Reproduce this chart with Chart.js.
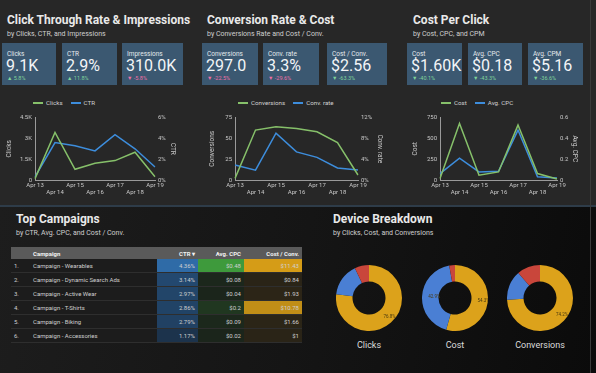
<!DOCTYPE html>
<html>
<head>
<meta charset="utf-8">
<script src="https://cdn.jsdelivr.net/npm/chart.js@4.4.1/dist/chart.umd.min.js"></script>
<style>
  html, body { margin: 0; padding: 0; }
  body { width: 596px; height: 373px; position: relative; overflow: hidden; font-family: Roboto, 'Noto Sans', sans-serif; color: #e8e8e8; background: #111; }
  .top { position: absolute; left: 0; top: 0; width: 596px; height: 205px; background: #272727; }
  .sep { position: absolute; left: 0; top: 205px; width: 596px; height: 2px; background: #2e3c49; }
  .bottom { position: absolute; left: 0; top: 207px; width: 596px; height: 166px; background: linear-gradient(100deg, #1d1d1d 0%, #151515 50%, #0b0b0b 100%); }
  .edge { position: absolute; left: 590px; top: 0; width: 1px; height: 373px; background: #3a3a3a; }
  .title { position: absolute; font-weight: 700; font-size: 12px; line-height: 13px; color: #e9e9e9; white-space: nowrap; }
  .sub { position: absolute; font-size: 7px; line-height: 7px; color: #cfcfcf; white-space: nowrap; }
  .card { position: absolute; top: 43px; height: 42px; background: #3b5871; }
  .card .lbl { position: absolute; left: 5px; top: 8px; font-size: 6.5px; line-height: 7px; color: #e3e8ec; white-space: nowrap; }
  .card .val { position: absolute; left: 4px; top: 15px; font-size: 16px; line-height: 16px; color: #f3f5f7; white-space: nowrap; }
  .card .chg { position: absolute; left: 5px; top: 32px; font-size: 5.5px; line-height: 6px; white-space: nowrap; }
  .legend { position: absolute; top: 99px; font-size: 6.2px; line-height: 8px; color: #d0d0d0; white-space: nowrap; }
  .legend span.sw { display: inline-block; width: 10px; height: 2px; vertical-align: middle; margin-right: 3px; }
  .legend span.it { margin-right: 8px; }
  .box { position: absolute; }
  table { position: absolute; left: 11px; top: 247px; border-collapse: collapse; table-layout: fixed; font-size: 6px; color: #cfcfcf; }
  th { background: #5a5a5a; color: #f2f2f2; font-weight: 700; height: 12px; padding: 0 3px; text-align: right; white-space: nowrap; }
  td { height: 13px; padding: 0 3px; border-bottom: 1px solid #2e2e2e; white-space: nowrap; text-align: right; background: #1c1c1c; }
  td.l, th.l { text-align: left; }
  .dlabel { position: absolute; top: 340px; font-size: 9px; color: #dcdcdc; width: 80px; text-align: center; }
</style>
</head>
<body>
<div class="top"></div>
<div class="sep"></div>
<div class="bottom"></div>
<div class="edge"></div>

<div class="title" style="left:7px; top:14px;">Click Through Rate &amp; Impressions</div>
<div class="sub" style="left:7px; top:31px;">by Clicks, CTR, and Impressions</div>
<div class="title" style="left:207px; top:14px;">Conversion Rate &amp; Cost</div>
<div class="sub" style="left:207px; top:31px;">by Conversions Rate and Cost / Conv.</div>
<div class="title" style="left:413px; top:14px;">Cost Per Click</div>
<div class="sub" style="left:413px; top:31px;">by Cost, CPC, and CPM</div>
<div class="title" style="left:16px; top:213px;">Top Campaigns</div>
<div class="sub" style="left:16px; top:230px;">by CTR, Avg. CPC, and Cost / Conv.</div>
<div class="title" style="left:333px; top:213px;">Device Breakdown</div>
<div class="sub" style="left:333px; top:230px;">by Clicks, Cost, and Conversions</div>

<div id="cards"></div>

<div class="box" style="left:1px; top:111px; width:180px; height:89px;"><canvas id="chart1"></canvas></div>
<div class="box" style="left:204px; top:111px; width:184px; height:89px;"><canvas id="chart2"></canvas></div>
<div class="box" style="left:407px; top:111px; width:176px; height:89px;"><canvas id="chart3"></canvas></div>
<div class="legend" id="legend1" style="left:33px;"></div>
<div class="legend" id="legend2" style="left:238px;"></div>
<div class="legend" id="legend3" style="left:441px;"></div>

<table id="campaignTable"></table>

<div class="box" style="left:336px; top:265px; width:66px; height:66px;"><canvas id="donut1"></canvas></div>
<div class="box" style="left:422px; top:265px; width:66px; height:66px;"><canvas id="donut2"></canvas></div>
<div class="box" style="left:507px; top:265px; width:66px; height:66px;"><canvas id="donut3"></canvas></div>
<div class="dlabel" style="left:329px;">Clicks</div>
<div class="dlabel" style="left:415px;">Cost</div>
<div class="dlabel" style="left:500px;">Conversions</div>

<script>
'use strict';

//////////////////////
// data
//////////////////////

const dates = ['Apr 13', 'Apr 14', 'Apr 15', 'Apr 16', 'Apr 17', 'Apr 18', 'Apr 19'];
const clicks = [100, 3430, 770, 1200, 1400, 2000, 230];
const ctr = [0.3, 3.6, 3.3, 2.8, 4.35, 3.0, 1.25];
const conversions = [2, 60, 64, 62, 58, 45, 6];
const convRate = [2.9, 1.9, 9.0, 5.4, 4.35, 2.3, 1.9];
const cost = [19, 680, 58, 97, 660, 78, 12];
const avgCpc = [0.062, 0.21, 0.078, 0.084, 0.48, 0.031, 0.02];

const kpiLabels = ['Clicks', 'CTR', 'Impressions', 'Conversions', 'Conv. rate', 'Cost / Conv.', 'Cost', 'Avg. CPC', 'Avg. CPM'];
const kpiValues = ['9.1K', '2.9%', '310.0K', '297.0', '3.3%', '$2.56', '$1.60K', '$0.18', '$5.16'];
const kpiChanges = [5.8, 11.8, -5.8, -22.5, -29.6, -63.3, -40.1, -43.3, -36.6];
const kpiGood = [true, true, false, false, false, true, true, true, true];

const campaigns = ['Campaign - Wearables', 'Campaign - Dynamic Search Ads', 'Campaign - Active Wear', 'Campaign - T-Shirts', 'Campaign - Biking', 'Campaign - Accessories'];
const campaignCtr = [4.36, 3.14, 2.97, 2.86, 2.79, 1.17];
const campaignCpc = [0.48, 0.08, 0.04, 0.2, 0.09, 0.02];
const campaignCostConv = [11.43, 0.84, 1.93, 10.78, 1.66, 1];

const devices = ['Mobile', 'Desktop', 'Tablet'];
const deviceClicks = [76.8, 16.2, 7.0];
const deviceCost = [54.3, 42.9, 2.8];
const deviceConversions = [74.2, 14.4, 11.4];

//////////////////////
// styles
//////////////////////

const green = '#86c06a';
const blue = '#3d8ddc';
const tickColor = '#c8c8c8';
const axisColor = '#9a9a9a';
const deviceColors = ['#dca21b', '#4a7fd4', '#c9463b'];
const cardBoxes = [[2, 54], [62, 55], [122, 61], [202, 56], [263, 56], [327, 60], [407, 55], [468, 54], [528, 55]];

Chart.defaults.font.family = 'Roboto, sans-serif';
Chart.defaults.color = tickColor;

//////////////////////
// KPI cards
//////////////////////

function renderCards() {
  const holder = document.getElementById('cards');
  for (let i = 0; i < kpiLabels.length; i++) {
    const card = document.createElement('div');
    card.className = 'card';
    card.style.left = cardBoxes[i][0] + 'px';
    card.style.width = cardBoxes[i][1] + 'px';
    const change = kpiChanges[i];
    const arrow = change >= 0 ? '\u25B2' : '\u25BC';
    const color = kpiGood[i] ? '#7fd39a' : '#ef6fa6';
    card.innerHTML = `<div class="lbl">${kpiLabels[i]}</div>` +
      `<div class="val">${kpiValues[i]}</div>` +
      `<div class="chg" style="color:${color}">${arrow} ${change}%</div>`;
    holder.appendChild(card);
  }
}

//////////////////////
// line charts
//////////////////////

function fixWidth(w) {
  return function (scale) { scale.width = w; };
}

function dateTick(value, index) {
  return index % 2 === 0 ? [dates[index]] : ['', dates[index]];
}

function makeLineChart(id, legendId, s1, s2, opts) {
  const data = {
    labels: dates,
    datasets: [
      { label: s1.label, data: s1.data, borderColor: green, yAxisID: 'y', borderWidth: 1.5, pointRadius: 0, tension: 0 },
      { label: s2.label, data: s2.data, borderColor: blue, yAxisID: 'y1', borderWidth: 1.5, pointRadius: 0, tension: 0 }
    ]
  };

  const config = {
    type: 'line',
    data: data,
    options: {
      animation: false,
      responsive: true,
      maintainAspectRatio: false,
      layout: { padding: 0 },
      plugins: { legend: { display: false }, tooltip: { enabled: false } },
      scales: {
        x: {
          offset: false,
          grid: { display: false, drawTicks: false },
          border: { display: true, color: axisColor, width: 1 },
          ticks: { autoSkip: false, maxRotation: 0, padding: 2, font: { size: 6 }, color: tickColor, callback: dateTick },
          afterFit: function (scale) { scale.height = 20; }
        },
        y: {
          position: 'left',
          min: 0, max: opts.leftMax,
          grid: { display: false, drawTicks: false },
          border: { display: true, color: axisColor, width: 1 },
          ticks: { stepSize: opts.leftMax / 3, padding: 3, font: { size: 6 }, color: tickColor, callback: opts.leftFmt },
          title: { display: true, text: s1.label, font: { size: 6.5 }, color: tickColor },
          afterFit: fixWidth(opts.wl)
        },
        y1: {
          position: 'right',
          min: 0, max: opts.rightMax,
          grid: { display: false, drawTicks: false },
          border: { display: false },
          ticks: { stepSize: opts.rightMax / 3, padding: 3, font: { size: 6 }, color: tickColor, callback: opts.rightFmt },
          title: { display: true, text: s2.label, font: { size: 6.5 }, color: tickColor },
          afterFit: fixWidth(opts.wr)
        }
      }
    }
  };
  new Chart(document.getElementById(id), config);

  const legend = document.getElementById(legendId);
  for (let ds of data.datasets) {
    const item = document.createElement('span');
    item.className = 'it';
    item.innerHTML = `<span class="sw" style="background:${ds.borderColor}"></span>${ds.label}`;
    legend.appendChild(item);
  }
}

//////////////////////
// table
//////////////////////

function mix(a, b, t) {
  const pa = a.match(/\w\w/g).map(h => parseInt(h, 16));
  const pb = b.match(/\w\w/g).map(h => parseInt(h, 16));
  return 'rgb(' + pa.map((v, i) => Math.round(v + (pb[i] - v) * t)).join(',') + ')';
}

function heat(values, i, dark, bright) {
  const min = Math.min(...values);
  const max = Math.max(...values);
  const t = (values[i] - min) / (max - min);
  return mix(dark, bright, t * t);
}

function renderTable() {
  const table = document.getElementById('campaignTable');
  let html = '<colgroup><col style="width:19px"><col style="width:127px"><col style="width:41px"><col style="width:46px"><col style="width:58px"></colgroup>';
  html += '<tr><th class="l"></th><th class="l">Campaign</th><th>CTR \u25BE</th><th>Avg. CPC</th><th>Cost / Conv.</th></tr>';
  for (let i = 0; i < campaigns.length; i++) {
    const cBg = heat(campaignCtr, i, '1c334c', '2f6ba7');
    const pBg = heat(campaignCpc, i, '1b251b', '3e9a3c');
    const kBg = heat(campaignCostConv, i, '2a2417', 'd59c17');
    html += `<tr><td class="l">${i + 1}.</td><td class="l">${campaigns[i]}</td>` +
      `<td style="background:${cBg}">${campaignCtr[i].toFixed(2)}%</td>` +
      `<td style="background:${pBg}">$${campaignCpc[i]}</td>` +
      `<td style="background:${kBg}">$${campaignCostConv[i]}</td></tr>`;
  }
  table.innerHTML = html;
}

//////////////////////
// donuts
//////////////////////

const sliceLabels = {
  id: 'sliceLabels',
  afterDatasetsDraw(chart) {
    const ctx = chart.ctx;
    const meta = chart.getDatasetMeta(0);
    const values = chart.data.datasets[0].data;
    ctx.save();
    ctx.font = '4.5px Roboto, sans-serif';
    ctx.fillStyle = '#4a3a10';
    ctx.textAlign = 'center';
    ctx.textBaseline = 'middle';
    meta.data.forEach((arc, i) => {
      if (values[i] < 40) return;
      const p = arc.tooltipPosition();
      ctx.fillText(values[i].toFixed(1) + '%', p.x + 4, p.y);
    });
    ctx.restore();
  }
};

function makeDonut(id, values) {
  new Chart(document.getElementById(id), {
    type: 'doughnut',
    data: {
      labels: devices,
      datasets: [{ data: values, backgroundColor: deviceColors, borderWidth: 0 }]
    },
    options: {
      animation: false,
      responsive: true,
      maintainAspectRatio: false,
      cutout: '50%',
      plugins: { legend: { display: false }, tooltip: { enabled: false } }
    },
    plugins: [sliceLabels]
  });
}

// Start
renderCards();
makeLineChart('chart1', 'legend1', { label: 'Clicks', data: clicks }, { label: 'CTR', data: ctr }, {
  leftMax: 4500, rightMax: 6, wl: 34, wr: 26,
  leftFmt: v => v === 0 ? '0' : (v / 1000) + 'K',
  rightFmt: v => Math.round(v) + '%'
});
makeLineChart('chart2', 'legend2', { label: 'Conversions', data: conversions }, { label: 'Conv. rate', data: convRate }, {
  leftMax: 75, rightMax: 12, wl: 31, wr: 30,
  leftFmt: v => Math.round(v),
  rightFmt: v => Math.round(v) + '%'
});
makeLineChart('chart3', 'legend3', { label: 'Cost', data: cost }, { label: 'Avg. CPC', data: avgCpc }, {
  leftMax: 750, rightMax: 0.6, wl: 33, wr: 26,
  leftFmt: v => Math.round(v),
  rightFmt: v => v === 0 ? '0' : Number(v.toFixed(1)).toString()
});
renderTable();
makeDonut('donut1', deviceClicks);
makeDonut('donut2', deviceCost);
makeDonut('donut3', deviceConversions);
</script>
</body>
</html>
